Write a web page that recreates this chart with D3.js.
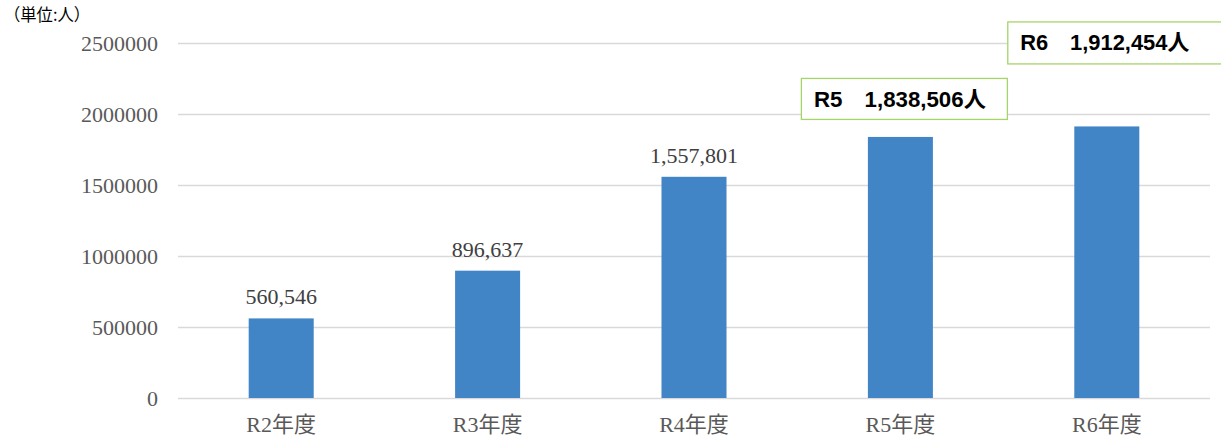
<!DOCTYPE html>
<html><head><meta charset="utf-8">
<script src="https://cdn.jsdelivr.net/npm/d3@7"></script>
<style>
body{margin:0;background:#fff;}
svg{display:block;}
</style></head>
<body><svg id="c" width="1221" height="441"></svg>
<script>
const categories = ["R2年度","R3年度","R4年度","R5年度","R6年度"];
const values = [560546, 896637, 1557801, 1838506, 1912454];
const dataLabels = ["560,546","896,637","1,557,801","",""];
const yTicks = [0, 500000, 1000000, 1500000, 2000000, 2500000];
const calloutLabels = ["R5　1,838,506人","R6　1,912,454人"];
const calloutIndex = [3, 4];
const unitLabel = "（単位:人）";

const svg = d3.select("#c");
const m = {left:178, right:1210, top:43, bottom:398};
const x = d3.scaleBand().domain(categories).range([m.left, m.right]).paddingInner(0.685).paddingOuter(0.3425);
const y = d3.scaleLinear().domain([0, 2500000]).range([m.bottom, m.top]);

const serif = "'Liberation Serif','Times New Roman','Noto Sans CJK JP',serif";

// gridlines
svg.append("g").selectAll("line").data(yTicks).join("line")
  .attr("x1", m.left).attr("x2", m.right)
  .attr("y1", d=>Math.round(y(d))+0.5).attr("y2", d=>Math.round(y(d))+0.5)
  .attr("stroke", "#d9d9d9").attr("stroke-width", 1.3);

// y axis
const ya = svg.append("g").attr("transform", `translate(${m.left},0)`)
  .call(d3.axisLeft(y).tickValues(yTicks).tickSize(0).tickPadding(20).tickFormat(d=>String(d)));
ya.select(".domain").remove();
ya.selectAll("text").attr("font-family", serif).attr("font-size", 22).attr("fill", "#595959");

// x axis
const xa = svg.append("g").attr("transform", `translate(0,${m.bottom})`)
  .call(d3.axisBottom(x).tickSize(0).tickPadding(18));
xa.select(".domain").remove();
xa.selectAll("text").attr("font-family", serif).attr("font-size", 22).attr("fill", "#595959");

// bars
svg.append("g").selectAll("rect").data(values).join("rect")
  .attr("x", (d,i)=>x(categories[i])).attr("width", x.bandwidth())
  .attr("y", d=>y(d)).attr("height", d=>y(0)-y(d))
  .attr("fill", "#4285c7");

// data labels
svg.append("g").selectAll("text").data(values).join("text")
  .attr("x", (d,i)=>x(categories[i]) + x.bandwidth()/2)
  .attr("y", d=>y(d) - 14)
  .attr("text-anchor", "middle")
  .attr("font-family", serif).attr("font-size", 22).attr("fill", "#404040")
  .text((d,i)=>dataLabels[i]);

// callouts
const boxFont = "'Liberation Sans','Arial','Noto Sans CJK JP',sans-serif";
const callouts = [
  {text:calloutLabels[0], bx:x(categories[calloutIndex[0]]) - 67, by: y(values[calloutIndex[0]]) - 59, w:206, h:41, tl:172},
  {text:calloutLabels[1], bx:x(categories[calloutIndex[1]]) - 67, by: y(values[calloutIndex[1]]) - 105, w:220, h:42, tl:169}
];
const cg = svg.append("g");
callouts.forEach(c=>{
  cg.append("rect").attr("x", c.bx+0.5).attr("y", c.by+0.5).attr("width", c.w).attr("height", c.h)
    .attr("fill", "#fff").attr("stroke", "#a5d46a").attr("stroke-width", 1.3);
  cg.append("text").attr("x", c.bx + 13).attr("y", c.by + 29)
    .attr("font-family", boxFont).attr("font-weight", "bold").attr("font-size", 22).attr("fill", "#000")
    .attr("textLength", c.tl).attr("lengthAdjust", "spacingAndGlyphs")
    .text(c.text);
});

// unit label
svg.append("text").attr("x", 4).attr("y", 21)
  .attr("font-family", "'Noto Sans CJK JP',sans-serif").attr("font-size", 17).attr("fill", "#000")
  .attr("textLength", 86).attr("lengthAdjust", "spacingAndGlyphs")
  .text(unitLabel);
</script></body></html>
